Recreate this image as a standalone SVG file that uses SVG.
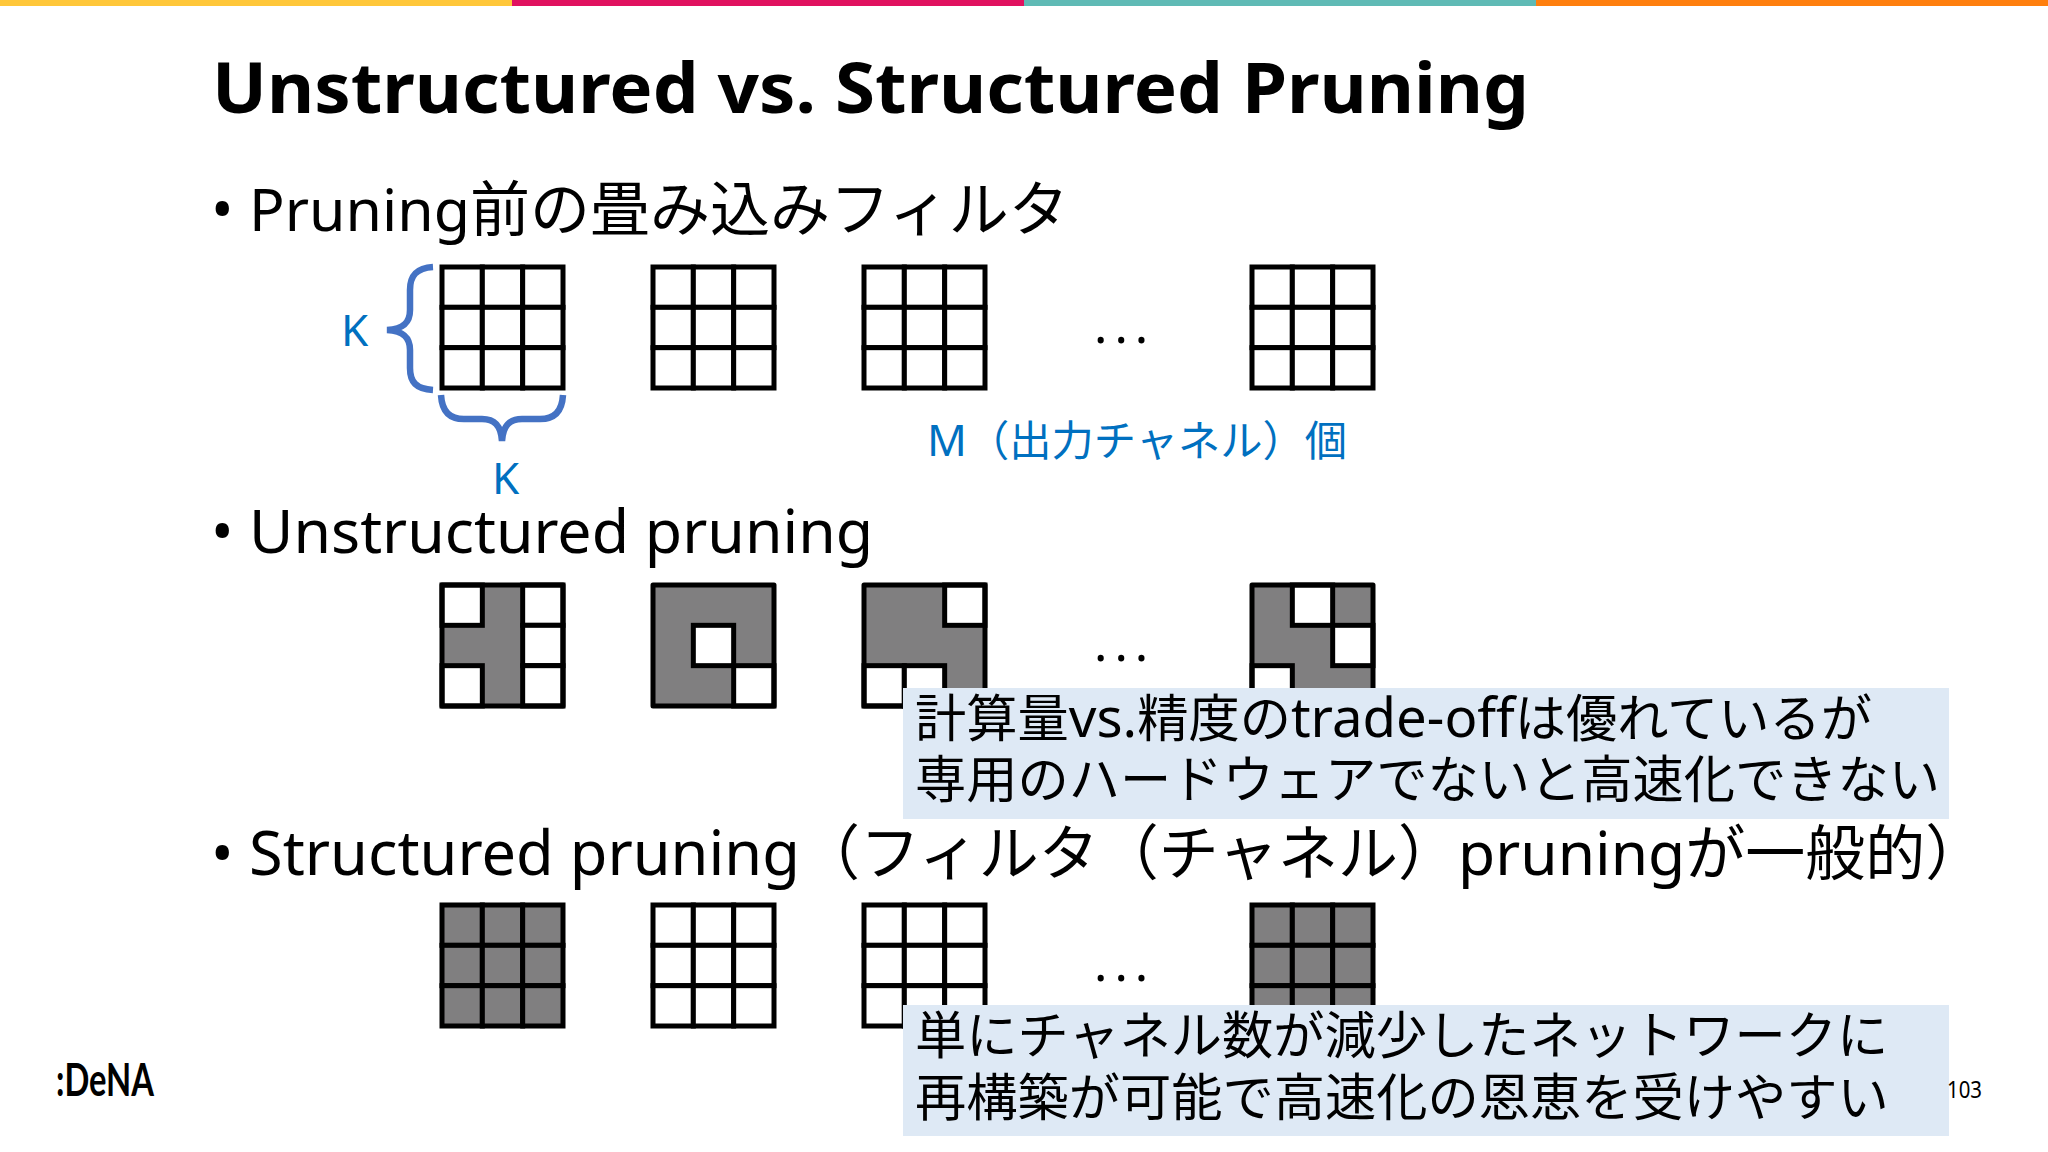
<svg xmlns="http://www.w3.org/2000/svg" width="2048" height="1152" viewBox="0 0 2048 1152">
<style>
text{font-family:"Noto Sans","Noto Sans CJK JP",sans-serif;fill:#000}
.title{font-size:70px;font-weight:700}
.body{font-size:60px}
.note{font-size:51.25px}
.lat{font-size:54.5px}
.blue{font-size:44px;fill:#0070C0}
.cjk{font-size:42.3px}
.dots{font-size:50px}
.w{fill:#fff;stroke:#000;stroke-width:5}
.g{fill:#807f80}
.gl{fill:#807f80;stroke:#000;stroke-width:5}
.frame{fill:none;stroke:#000;stroke-width:5;stroke-linejoin:round}
.brace{fill:none;stroke:#4472C4;stroke-width:6.5}
.box{fill:#DEE9F5}
</style>
<defs>
<g id="gW"><rect class="w" width="40.33" height="40.33"/><rect class="w" x="40.33" width="40.33" height="40.33"/><rect class="w" x="80.67" width="40.33" height="40.33"/><rect class="w" y="40.33" width="40.33" height="40.33"/><rect class="w" x="40.33" y="40.33" width="40.33" height="40.33"/><rect class="w" x="80.67" y="40.33" width="40.33" height="40.33"/><rect class="w" y="80.67" width="40.33" height="40.33"/><rect class="w" x="40.33" y="80.67" width="40.33" height="40.33"/><rect class="w" x="80.67" y="80.67" width="40.33" height="40.33"/></g>
<g id="gG"><rect class="gl" width="40.33" height="40.33"/><rect class="gl" x="40.33" width="40.33" height="40.33"/><rect class="gl" x="80.67" width="40.33" height="40.33"/><rect class="gl" y="40.33" width="40.33" height="40.33"/><rect class="gl" x="40.33" y="40.33" width="40.33" height="40.33"/><rect class="gl" x="80.67" y="40.33" width="40.33" height="40.33"/><rect class="gl" y="80.67" width="40.33" height="40.33"/><rect class="gl" x="40.33" y="80.67" width="40.33" height="40.33"/><rect class="gl" x="80.67" y="80.67" width="40.33" height="40.33"/></g>
<rect id="c" class="w" width="40.33" height="40.33"/>
<rect id="f" class="frame" width="121" height="121"/>
<rect id="solid" class="g" width="121" height="121"/>
</defs>
<rect width="2048" height="1152" fill="#fff"/>
<g id="topbar"><rect width="512" height="6" fill="#FFC73A"/><rect x="512" width="512" height="6" fill="#E0115F"/><rect x="1024" width="512" height="6" fill="#5FBAB5"/><rect x="1536" width="512" height="6" fill="#FF7F0E"/></g>
<text class="title" x="212" y="113" textLength="1317" lengthAdjust="spacingAndGlyphs">Unstructured vs. Structured Pruning</text>
<text class="body" x="211" y="231">• </text><text class="body" x="249" y="231"><tspan font-size="59">Pruning</tspan>前の畳み込みフィルタ</text>
<text class="body" x="211" y="553">• </text><text class="body" x="249" y="553" style="font-size:60.8px">Unstructured pruning</text>
<text class="body" x="211" y="875">• </text><text class="body" x="249" y="875"><tspan style="font-size:61.3px">Structured pruning</tspan>（フィルタ（チャネル）<tspan style="font-size:60.5px">pruning</tspan>が一般的）</text>

<g id="braces">
<path class="brace" d="M433 267C416 268 410 276 410 290V310C410 322 404 329 387 330C404 331 410 338 410 350V368C410 382 416 389 433 390"/>
<path class="brace" d="M441 395C442 412 450 419 464 419H482C494 419 501 425 502 441C503 425 510 419 522 419H540C554 419 562 412 563 395"/>
</g>
<text class="blue" x="341" y="346">K</text>
<text class="blue" x="492" y="494">K</text>
<text class="blue" x="927" y="456">M<tspan class="cjk">（出力チャネル）個</tspan></text>

<g id="filter-a1"><use href="#gW" x="442" y="267"/></g>
<g id="filter-a2"><use href="#gW" x="653" y="267"/></g>
<g id="filter-a3"><use href="#gW" x="864" y="267"/></g>
<g id="filter-a4"><use href="#gW" x="1252" y="267"/></g>
<text class="dots" x="1094" y="343" letter-spacing="7">...</text>

<g id="filter-b1"><use href="#solid" x="442" y="585"/><use href="#c" x="442" y="585"/><use href="#c" x="522.67" y="585"/><use href="#c" x="522.67" y="625.33"/><use href="#c" x="442" y="665.67"/><use href="#c" x="522.67" y="665.67"/><use href="#f" x="442" y="585"/></g>
<g id="filter-b2"><use href="#solid" x="653" y="585"/><use href="#c" x="693.33" y="625.33"/><use href="#c" x="733.67" y="665.67"/><use href="#f" x="653" y="585"/></g>
<g id="filter-b3"><use href="#solid" x="864" y="585"/><use href="#c" x="944.67" y="585"/><use href="#c" x="864" y="665.67"/><use href="#c" x="904.33" y="665.67"/><use href="#f" x="864" y="585"/></g>
<g id="filter-b4"><use href="#solid" x="1252" y="585"/><use href="#c" x="1292.33" y="585"/><use href="#c" x="1332.67" y="625.33"/><use href="#c" x="1252" y="665.67"/><use href="#f" x="1252" y="585"/></g>
<text class="dots" x="1094" y="661" letter-spacing="7">...</text>

<g id="filter-c1"><use href="#gG" x="442" y="905"/></g>
<g id="filter-c2"><use href="#gW" x="653" y="905"/></g>
<g id="filter-c3"><use href="#gW" x="864" y="905"/></g>
<g id="filter-c4"><use href="#gG" x="1252" y="905"/></g>
<text class="dots" x="1094" y="981" letter-spacing="7">...</text>

<g id="note-1"><rect class="box" x="903" y="688" width="1046" height="131"/>
<text class="note" x="915" y="737">計算量<tspan class="lat">vs.</tspan>精度の<tspan class="lat">trade-off</tspan>は優れているが</text>
<text class="note" x="915" y="798">専用のハードウェアでないと高速化できない</text></g>
<g id="note-2"><rect class="box" x="903" y="1005" width="1046" height="131"/>
<text class="note" x="915" y="1054">単にチャネル数が減少したネットワークに</text>
<text class="note" x="915" y="1116">再構築が可能で高速化の恩恵を受けやすい</text></g>
<text id="logo" x="56" y="1096" font-size="46" font-weight="700" style="font-family:'Lato',sans-serif" textLength="98" lengthAdjust="spacingAndGlyphs">:DeNA</text>
<text id="page" x="1947" y="1098" font-size="23" textLength="35" lengthAdjust="spacingAndGlyphs">103</text>
</svg>
